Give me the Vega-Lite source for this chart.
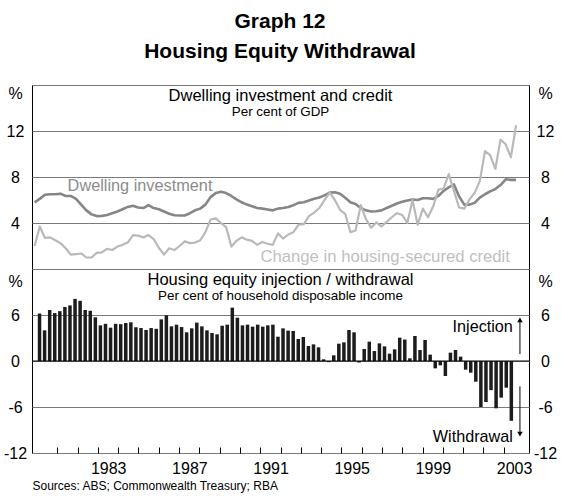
{
"$schema":"https://vega.github.io/schema/vega-lite/v6.json",
"background":"white",
"padding":{"left":2,"right":2,"top":10,"bottom":2},
"title":{"text":"Graph 12","subtitle":"Housing Equity Withdrawal","anchor":"middle","font":"Liberation Sans","subtitleFont":"Liberation Sans","fontSize":21,"subtitleFontSize":21,"fontWeight":"bold","subtitleFontWeight":"bold","color":"black","subtitleColor":"black","subtitlePadding":9,"offset":23},
"config":{"font":"Liberation Sans","view":{"stroke":"black","strokeWidth":1},"axis":{"labelFont":"Liberation Sans","labelFontSize":16,"labelColor":"black","titleFont":"Liberation Sans"}},
"datasets":{"q":[
{"t":1980.125,"di":5.8,"cr":2.0,"h":6.2},{"t":1980.375,"di":6.1,"cr":3.7,"h":4.0},{"t":1980.625,"di":6.45,"cr":2.7,"h":6.65},{"t":1980.875,"di":6.5,"cr":2.75,"h":6.25},
{"t":1981.125,"di":6.5,"cr":2.5,"h":6.5},{"t":1981.375,"di":6.55,"cr":2.25,"h":7.05},{"t":1981.625,"di":6.35,"cr":1.8,"h":7.25},{"t":1981.875,"di":6.35,"cr":1.25,"h":8.1},
{"t":1982.125,"di":6.1,"cr":1.3,"h":7.85},{"t":1982.375,"di":5.6,"cr":1.35,"h":6.65},{"t":1982.625,"di":5.1,"cr":1.0,"h":6.55},{"t":1982.875,"di":4.75,"cr":1.0,"h":5.7},
{"t":1983.125,"di":4.6,"cr":1.4,"h":4.65},{"t":1983.375,"di":4.62,"cr":1.45,"h":4.85},{"t":1983.625,"di":4.7,"cr":1.75,"h":4.35},{"t":1983.875,"di":4.85,"cr":1.65,"h":4.85},
{"t":1984.125,"di":5.0,"cr":1.95,"h":4.8},{"t":1984.375,"di":5.2,"cr":2.1,"h":4.95},{"t":1984.625,"di":5.4,"cr":2.3,"h":5.05},{"t":1984.875,"di":5.5,"cr":2.95,"h":4.4},
{"t":1985.125,"di":5.35,"cr":2.9,"h":4.3},{"t":1985.375,"di":5.3,"cr":2.75,"h":4.05},{"t":1985.625,"di":5.55,"cr":2.95,"h":4.3},{"t":1985.875,"di":5.3,"cr":2.6,"h":4.2},
{"t":1986.125,"di":5.2,"cr":1.85,"h":5.43},{"t":1986.375,"di":5.0,"cr":1.25,"h":5.96},{"t":1986.625,"di":4.8,"cr":1.8,"h":4.52},{"t":1986.875,"di":4.68,"cr":1.65,"h":4.74},
{"t":1987.125,"di":4.65,"cr":2.0,"h":4.43},{"t":1987.375,"di":4.65,"cr":2.4,"h":3.74},{"t":1987.625,"di":4.85,"cr":2.25,"h":4.26},{"t":1987.875,"di":5.1,"cr":2.3,"h":5.0},
{"t":1988.125,"di":5.25,"cr":2.5,"h":4.52},{"t":1988.375,"di":5.6,"cr":3.2,"h":4.0},{"t":1988.625,"di":6.25,"cr":4.3,"h":3.65},{"t":1988.875,"di":6.6,"cr":4.4,"h":3.48},
{"t":1989.125,"di":6.72,"cr":4.0,"h":4.6},{"t":1989.375,"di":6.6,"cr":3.65,"h":4.74},{"t":1989.625,"di":6.35,"cr":1.95,"h":6.96},{"t":1989.875,"di":6.05,"cr":2.45,"h":5.65},
{"t":1990.125,"di":5.8,"cr":2.75,"h":4.65},{"t":1990.375,"di":5.6,"cr":2.55,"h":4.74},{"t":1990.625,"di":5.45,"cr":2.45,"h":4.48},{"t":1990.875,"di":5.3,"cr":2.1,"h":4.74},
{"t":1991.125,"di":5.25,"cr":2.35,"h":4.48},{"t":1991.375,"di":5.18,"cr":2.2,"h":4.65},{"t":1991.625,"di":5.1,"cr":2.1,"h":4.74},{"t":1991.875,"di":5.25,"cr":3.1,"h":3.17},
{"t":1992.125,"di":5.3,"cr":2.65,"h":4.26},{"t":1992.375,"di":5.4,"cr":3.0,"h":3.96},{"t":1992.625,"di":5.55,"cr":3.2,"h":3.91},{"t":1992.875,"di":5.75,"cr":3.85,"h":2.87},
{"t":1993.125,"di":5.8,"cr":3.9,"h":3.13},{"t":1993.375,"di":5.95,"cr":4.6,"h":1.96},{"t":1993.625,"di":6.1,"cr":4.9,"h":2.17},{"t":1993.875,"di":6.22,"cr":5.3,"h":1.78},
{"t":1994.125,"di":6.4,"cr":6.0,"h":0.22},{"t":1994.375,"di":6.65,"cr":6.65,"h":-0.15},{"t":1994.625,"di":6.68,"cr":6.0,"h":0.74},{"t":1994.875,"di":6.55,"cr":5.15,"h":2.26},
{"t":1995.125,"di":6.2,"cr":4.8,"h":2.43},{"t":1995.375,"di":5.8,"cr":3.2,"h":4.04},{"t":1995.625,"di":5.65,"cr":3.35,"h":3.74},{"t":1995.875,"di":5.3,"cr":5.55,"h":-0.2},
{"t":1996.125,"di":5.1,"cr":4.35,"h":1.57},{"t":1996.375,"di":5.0,"cr":3.6,"h":2.52},{"t":1996.625,"di":5.02,"cr":4.05,"h":1.3},{"t":1996.875,"di":5.1,"cr":3.7,"h":2.3},
{"t":1997.125,"di":5.3,"cr":4.1,"h":1.91},{"t":1997.375,"di":5.5,"cr":4.5,"h":0.96},{"t":1997.625,"di":5.7,"cr":4.85,"h":1.52},{"t":1997.875,"di":5.85,"cr":4.7,"h":3.04},
{"t":1998.125,"di":5.95,"cr":4.0,"h":2.8},{"t":1998.375,"di":6.05,"cr":6.0,"h":0.35},{"t":1998.625,"di":6.0,"cr":3.85,"h":3.26},{"t":1998.875,"di":6.15,"cr":5.25,"h":1.43},
{"t":1999.125,"di":6.15,"cr":4.5,"h":2.74},{"t":1999.375,"di":6.1,"cr":5.45,"h":0.83},{"t":1999.625,"di":6.35,"cr":6.9,"h":-0.96},{"t":1999.875,"di":6.8,"cr":7.0,"h":-0.57},
{"t":2000.125,"di":7.1,"cr":8.25,"h":-1.96},{"t":2000.375,"di":7.35,"cr":6.8,"h":1.09},{"t":2000.625,"di":6.3,"cr":5.35,"h":1.43},{"t":2000.875,"di":5.6,"cr":5.25,"h":0.57},
{"t":2001.125,"di":5.6,"cr":6.05,"h":-1.13},{"t":2001.375,"di":5.75,"cr":6.62,"h":-1.52},{"t":2001.625,"di":6.2,"cr":7.64,"h":-2.7},{"t":2001.875,"di":6.5,"cr":10.25,"h":-6.0},
{"t":2002.125,"di":6.75,"cr":9.9,"h":-5.35},{"t":2002.375,"di":6.95,"cr":8.7,"h":-3.8},{"t":2002.625,"di":7.3,"cr":11.25,"h":-6.17},{"t":2002.875,"di":7.8,"cr":10.85,"h":-4.78},
{"t":2003.125,"di":7.75,"cr":9.7,"h":-3.48},{"t":2003.375,"di":7.75,"cr":12.5,"h":-7.8}
]},
"spacing":0,
"bounds":"flush",
"vconcat":[
{
"width":497,"height":184,
"data":{"name":"q"},
"encoding":{"x":{"field":"t","type":"quantitative","scale":{"domain":[1980,2004],"nice":false,"zero":false},"axis":null}},
"layer":[
{"mark":{"type":"line","color":"#868686","strokeWidth":2.6,"strokeJoin":"round"},
 "encoding":{"y":{"field":"di","type":"quantitative","scale":{"domain":[0,16],"nice":false,"zero":false},
  "axis":{"orient":"left","values":[4,8,12,16],"labelExpr":"datum.value == 16 ? '%' : '' + datum.value","labelAlign":"center","labelPadding":17,"labelBaseline":{"condition":{"test":"datum.value == 16","value":"top"},"value":"middle"},"ticks":false,"domain":false,"grid":true,"gridColor":"#7a7a7a","gridWidth":1,"title":null}}}},
{"mark":{"type":"line","color":"#b9b9b9","strokeWidth":2.2,"strokeJoin":"round"},
 "encoding":{"y":{"field":"cr","type":"quantitative","scale":{"domain":[0,16],"nice":false,"zero":false},
  "axis":{"orient":"right","values":[4,8,12,16],"labelExpr":"datum.value == 16 ? '%' : '' + datum.value","labelAlign":"center","labelPadding":16,"labelBaseline":{"condition":{"test":"datum.value == 16","value":"top"},"value":"middle"},"ticks":false,"domain":false,"grid":false,"title":null}}}},
{"data":{"values":[{"t":1981.72,"v":7.25,"label":"Dwelling investment"}]},
 "mark":{"type":"text","align":"left","baseline":"middle","fontSize":16.3,"color":"#8c8c8c"},
 "encoding":{"y":{"field":"v","type":"quantitative","scale":{"domain":[0,16]},"axis":null},"text":{"field":"label"}}},
{"data":{"values":[{"t":1991.03,"v":1.08,"label":"Change in housing-secured credit"}]},
 "mark":{"type":"text","align":"left","baseline":"middle","fontSize":16.7,"color":"#bfbfbf"},
 "encoding":{"y":{"field":"v","type":"quantitative","scale":{"domain":[0,16]},"axis":null},"text":{"field":"label"}}},
{"data":{"values":[{"t":1992,"v":15.05,"label":"Dwelling investment and credit"}]},
 "mark":{"type":"text","align":"center","baseline":"middle","fontSize":16.5,"color":"black"},
 "encoding":{"y":{"field":"v","type":"quantitative","scale":{"domain":[0,16]},"axis":null},"text":{"field":"label"}}},
{"data":{"values":[{"t":1992,"v":13.62,"label":"Per cent of GDP"}]},
 "mark":{"type":"text","align":"center","baseline":"middle","fontSize":13.4,"color":"black"},
 "encoding":{"y":{"field":"v","type":"quantitative","scale":{"domain":[0,16]},"axis":null},"text":{"field":"label"}}}
],
"resolve":{"axis":{"y":"independent"}}
},
{
"width":497,"height":184,
"data":{"name":"q"},
"encoding":{"x":{"field":"t","type":"quantitative","scale":{"domain":[1980,2004],"nice":false,"zero":false},
 "axis":{"orient":"bottom","values":[1981,1982,1983,1984,1985,1986,1987,1988,1989,1990,1991,1992,1993,1994,1995,1996,1997,1998,1999,2000,2001,2002,2003],"labelExpr":"datum.value % 4 == 3 ? '' + datum.value : ''","tickSize":-6,"tickColor":"black","tickWidth":1,"domain":false,"grid":false,"labelOffset":10.35,"labelPadding":13,"labelFlush":false,"labelOverlap":false,"title":"Sources: ABS; Commonwealth Treasury; RBA","titleFontSize":12,"titleFontWeight":"normal","titleColor":"black","titleAnchor":"start","titleAlign":"left","titlePadding":4}}},
"layer":[
{"mark":{"type":"bar","color":"#1c1c1c","size":3.5},
 "encoding":{"y":{"field":"h","type":"quantitative","scale":{"domain":[-12,12],"nice":false,"zero":false},
  "axis":{"orient":"left","values":[-12,-6,0,6,12],"labelExpr":"datum.value == 12 ? '%' : '' + datum.value","labelAlign":"center","labelPadding":17,"labelBaseline":{"condition":{"test":"datum.value == 12","value":"top"},"value":"middle"},"labelOffset":{"condition":{"test":"datum.value == 12","value":4},"value":0},"ticks":false,"domain":false,"grid":true,"gridColor":"#7a7a7a","gridWidth":1,"title":null}}}},
{"data":{"values":[{"v":0}]},
 "mark":{"type":"rule","color":"black","strokeWidth":1},
 "encoding":{"x":null,"y":{"field":"v","type":"quantitative","scale":{"domain":[-12,12]},"axis":null}}},
{"data":{"values":[{"t":2003.45,"v":4.4,"label":"Injection"},{"t":2003.45,"v":-9.9,"label":"Withdrawal"}]},
 "mark":{"type":"text","align":"right","baseline":"middle","fontSize":16.2,"color":"black"},
 "encoding":{"y":{"field":"v","type":"quantitative","scale":{"domain":[-12,12]},
  "axis":{"orient":"right","values":[-12,-6,0,6,12],"labelExpr":"datum.value == 12 ? '%' : '' + datum.value","labelAlign":"center","labelPadding":16,"labelBaseline":{"condition":{"test":"datum.value == 12","value":"top"},"value":"middle"},"labelOffset":{"condition":{"test":"datum.value == 12","value":4},"value":0},"ticks":false,"domain":false,"grid":false,"title":null}},"text":{"field":"label"}}},
{"data":{"values":[{"t":2003.8,"v":0.9,"v2":5.3},{"t":2003.8,"v":-3.3,"v2":-9.5}]},
 "mark":{"type":"rule","color":"black","strokeWidth":1},
 "encoding":{"y":{"field":"v","type":"quantitative","scale":{"domain":[-12,12]},"axis":null},"y2":{"field":"v2"}}},
{"data":{"values":[{"t":2003.8,"v":5.35,"dir":"up"},{"t":2003.8,"v":-9.55,"dir":"down"}]},
 "mark":{"type":"point","filled":true,"color":"black","opacity":1,"size":30},
 "encoding":{"y":{"field":"v","type":"quantitative","scale":{"domain":[-12,12]},"axis":null},"shape":{"field":"dir","type":"nominal","scale":{"domain":["up","down"],"range":["triangle-up","triangle-down"]},"legend":null}}},
{"data":{"values":[{"t":1992,"v":10.55,"label":"Housing equity injection / withdrawal"}]},
 "mark":{"type":"text","align":"center","baseline":"middle","fontSize":16.5,"color":"black"},
 "encoding":{"y":{"field":"v","type":"quantitative","scale":{"domain":[-12,12]},"axis":null},"text":{"field":"label"}}},
{"data":{"values":[{"t":1992,"v":8.5,"label":"Per cent of household disposable income"}]},
 "mark":{"type":"text","align":"center","baseline":"middle","fontSize":13.4,"color":"black"},
 "encoding":{"y":{"field":"v","type":"quantitative","scale":{"domain":[-12,12]},"axis":null},"text":{"field":"label"}}}
],
"resolve":{"axis":{"y":"independent"}}
}
]
}
